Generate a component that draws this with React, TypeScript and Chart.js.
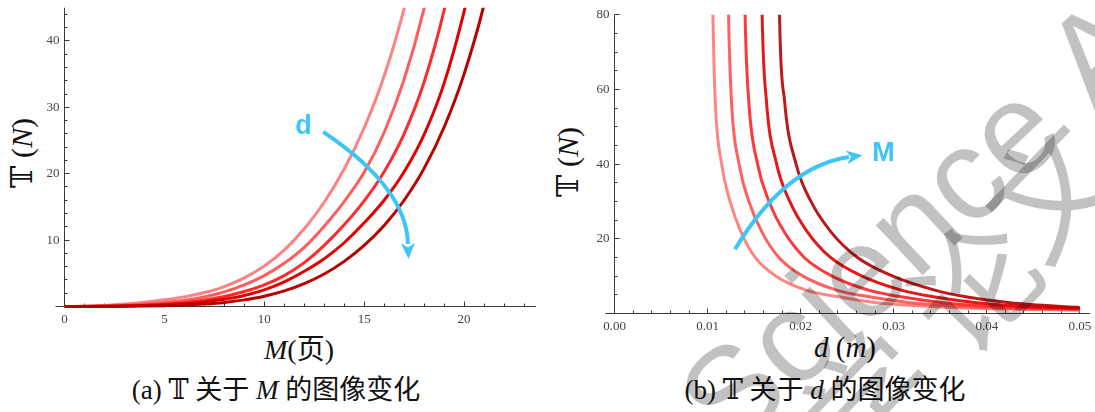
import React, { useEffect, useRef } from "react";
import { Chart, registerables } from "chart.js";

Chart.register(...registerables);

// ---------- Left panel: T vs M ----------
const leftM = [0, 1, 2, 3, 4, 5, 6, 7, 8, 9, 10, 11, 12, 13, 14, 15, 16, 17, 18, 19, 20, 21, 22];
const leftT1 = [0, 0.04, 0.16, 0.36, 0.64, 1.0, 1.45, 2.1, 3.0, 4.3, 6.1, 8.5, 11.7, 15.7, 20.7, 26.9, 34.7, 44.9, 58.4];
const leftT2 = [0, 0.03, 0.1, 0.2, 0.37, 0.62, 0.95, 1.45, 2.2, 3.25, 4.65, 6.5, 8.9, 12.1, 15.8, 20.2, 26.2, 34.2, 44.9, 59];
const leftT3 = [0, 0.015, 0.05, 0.11, 0.21, 0.37, 0.61, 0.97, 1.5, 2.25, 3.25, 4.65, 6.6, 9.2, 12.3, 15.9, 20.3, 26.0, 33.8, 44.6, 58.5];
const leftT4 = [0, 0.01, 0.04, 0.08, 0.15, 0.27, 0.44, 0.7, 1.08, 1.65, 2.5, 3.7, 5.3, 7.2, 9.6, 12.6, 16.0, 20.3, 25.9, 33.6, 44.4, 58];
const leftT5 = [0, 0, 0.01, 0.03, 0.07, 0.13, 0.22, 0.38, 0.62, 1.0, 1.55, 2.35, 3.45, 4.9, 6.8, 9.2, 12.2, 16.0, 20.8, 27.0, 35.0, 45.5, 60];

// ---------- Right panel: T vs d ----------
const rightT1 = [100, 80, 57, 40, 30, 22, 15, 10, 6.2, 4.4, 2.9, 1.75, 1.2, 0.9];
const rightD1 = [0.01045, 0.01056, 0.01081, 0.0115, 0.0124, 0.01355, 0.0151, 0.01734, 0.02067, 0.02425, 0.0282, 0.035, 0.042, 0.05];
const rightT2 = [100, 80, 57, 40, 30, 22, 15, 10, 6.2, 4.4, 2.9, 1.75, 1.3, 1.05];
const rightD2 = [0.01213, 0.01224, 0.01255, 0.01337, 0.01443, 0.01579, 0.01765, 0.02025, 0.02392, 0.02754, 0.0317, 0.0385, 0.044, 0.05];
const rightT3 = [100, 80, 57, 40, 30, 22, 15, 10, 6.2, 4.4, 2.9, 1.75, 1.2];
const rightD3 = [0.01391, 0.01402, 0.01441, 0.01536, 0.01659, 0.01819, 0.02038, 0.02337, 0.02737, 0.03097, 0.0353, 0.04204, 0.05];
const rightT4 = [100, 80, 57, 40, 30, 22, 15, 10, 6.2, 4.4, 2.9, 1.75, 1.4];
const rightD4 = [0.01574, 0.01585, 0.01631, 0.01741, 0.01882, 0.02067, 0.0232, 0.02659, 0.0309, 0.03444, 0.0389, 0.0455, 0.05];
const rightT5 = [100, 80, 57, 40, 30, 22, 15, 10, 6.2, 4.4, 2.9, 1.75, 1.6];
const rightD5 = [0.01762, 0.01772, 0.01826, 0.0195, 0.0211, 0.0232, 0.0261, 0.0299, 0.0345, 0.0379, 0.0425, 0.0489, 0.05];

const curveColors = ["#FF8282", "#FF5C5C", "#FF2B2B", "#E00000", "#B80000"];
const curveColorsSoft = [
  "rgba(255,120,120,0.9)",
  "rgba(255,80,80,0.9)",
  "rgba(255,35,35,0.9)",
  "rgba(222,0,0,0.9)",
  "rgba(180,0,0,0.9)",
];

// ---------- ticks ----------
const leftXMajor = [0, 5, 10, 15, 20];
const leftXLabels = ["0", "5", "10", "15", "20"];
const leftXMinor = [1, 2, 3, 4, 6, 7, 8, 9, 11, 12, 13, 14, 16, 17, 18, 19, 21, 22, 23];
const leftYMajor = [10, 20, 30, 40];
const leftYLabels = ["10", "20", "30", "40"];
const leftYMinor = [2, 4, 6, 8, 12, 14, 16, 18, 22, 24, 26, 28, 32, 34, 36, 38, 42, 44];

const rightXMajor = [0, 0.01, 0.02, 0.03, 0.04, 0.05];
const rightXLabels = ["0.00", "0.01", "0.02", "0.03", "0.04", "0.05"];
const rightXMinor = [0.002, 0.004, 0.006, 0.008, 0.012, 0.014, 0.016, 0.018, 0.022, 0.024, 0.026, 0.028, 0.032, 0.034, 0.036, 0.038, 0.042, 0.044, 0.046, 0.048];
const rightYMajor = [20, 40, 60, 80];
const rightYLabels = ["20", "40", "60", "80"];
const rightYMinor = [5, 10, 15, 25, 30, 35, 45, 50, 55, 65, 70, 75];

const CYAN = "#3EC5F5";

type Pt = { x: number; y: number };
const zip = (xs: number[], ys: number[]): Pt[] => ys.map((y, i) => ({ x: xs[i], y }));

const leftCurves = [
  zip(leftM, leftT1),
  zip(leftM, leftT2),
  zip(leftM, leftT3),
  zip(leftM, leftT4),
  zip(leftM, leftT5),
];
const rightCurves = [
  zip(rightD1, rightT1),
  zip(rightD2, rightT2),
  zip(rightD3, rightT3),
  zip(rightD4, rightT4),
  zip(rightD5, rightT5),
];

function axesPlugin(spec: any) {
  return {
    id: "customAxes",
    beforeDatasetsDraw(chart: any) {
      const { ctx, chartArea } = chart;
      const xs = chart.scales.x;
      const ys = chart.scales.y;
      const px = (v: number) => xs.getPixelForValue(v);
      const py = (v: number) => ys.getPixelForValue(v);
      const ox = Math.floor(px(0)) + 0.5;
      const oy = Math.floor(py(0)) + 0.5;
      ctx.save();
      ctx.strokeStyle = "#3a3a3a";
      ctx.lineWidth = 1;
      ctx.beginPath();
      ctx.moveTo(chartArea.left, oy);
      ctx.lineTo(chartArea.right, oy);
      ctx.moveTo(ox, oy);
      ctx.lineTo(ox, chartArea.top);
      spec.xMajor.forEach((v: number) => {
        const x = Math.floor(px(v)) + 0.5;
        ctx.moveTo(x, oy);
        ctx.lineTo(x, oy - 5);
      });
      spec.xMinor.forEach((v: number) => {
        const x = Math.floor(px(v)) + 0.5;
        ctx.moveTo(x, oy);
        ctx.lineTo(x, oy - 3);
      });
      spec.yMajor.forEach((v: number) => {
        const y = Math.floor(py(v)) + 0.5;
        ctx.moveTo(ox, y);
        ctx.lineTo(ox + 5, y);
      });
      spec.yMinor.forEach((v: number) => {
        const y = Math.floor(py(v)) + 0.5;
        ctx.moveTo(ox, y);
        ctx.lineTo(ox + 3, y);
      });
      ctx.stroke();
      ctx.fillStyle = "#444";
      ctx.font = '13px "Liberation Serif"';
      ctx.textAlign = "center";
      ctx.textBaseline = "middle";
      spec.xMajor.forEach((v: number, i: number) => ctx.fillText(spec.xLabels[i], px(v), oy + 13));
      ctx.textAlign = "right";
      spec.yMajor.forEach((v: number, i: number) => ctx.fillText(spec.yLabels[i], ox - 5, py(v)));
      ctx.restore();
    },
  };
}

function arrowPlugin(spec: any) {
  return {
    id: "cyanArrow",
    afterDatasetsDraw(chart: any) {
      const { ctx } = chart;
      const xs = chart.scales.x;
      const ys = chart.scales.y;
      const P = (p: number[]) => [xs.getPixelForValue(p[0]), ys.getPixelForValue(p[1])];
      const [sx, sy] = P(spec.start);
      const [cx, cy] = P(spec.ctrl);
      const [ex, ey] = P(spec.end);
      const [tx, ty] = P(spec.tip);
      ctx.save();
      ctx.strokeStyle = CYAN;
      ctx.fillStyle = CYAN;
      ctx.lineWidth = 4;
      ctx.beginPath();
      ctx.moveTo(sx, sy);
      ctx.quadraticCurveTo(cx, cy, ex, ey);
      ctx.stroke();
      const dx = tx - ex;
      const dy = ty - ey;
      const L = Math.hypot(dx, dy);
      const ux = dx / L;
      const uy = dy / L;
      const nx = -uy;
      const ny = ux;
      const hl = 16;
      const hw = 7;
      const bx = tx - ux * hl;
      const by = ty - uy * hl;
      ctx.beginPath();
      ctx.moveTo(tx, ty);
      ctx.lineTo(bx + nx * hw, by + ny * hw);
      ctx.lineTo(tx - ux * hl * 0.72, ty - uy * hl * 0.72);
      ctx.lineTo(bx - nx * hw, by - ny * hw);
      ctx.closePath();
      ctx.fill();
      const [lx, ly] = P(spec.labelPos);
      ctx.font = 'bold 27px "Liberation Sans"';
      ctx.textAlign = "center";
      ctx.textBaseline = "middle";
      ctx.fillText(spec.label, lx, ly);
      ctx.restore();
    },
  };
}

const watermarkPlugin = {
  id: "watermark",
  afterDraw(chart: any) {
    const { ctx } = chart;
    ctx.save();
    ctx.fillStyle = "rgba(0,0,0,0.24)";
    ctx.font = '130px "Liberation Sans"';
    ctx.translate(186, 454);
    ctx.rotate((-43 * Math.PI) / 180);
    ctx.textAlign = "left";
    ctx.textBaseline = "alphabetic";
    ctx.fillText("Science Aw", 0, 0);
    ctx.restore();
    const chars: [string, number, number][] = [
      ["学", 325, 400],
      ["论", 430, 285],
      ["文", 505, 190],
    ];
    chars.forEach(([c, x, y]) => {
      ctx.save();
      ctx.fillStyle = "rgba(0,0,0,0.24)";
      ctx.font = '125px "Noto Sans CJK SC"';
      ctx.translate(x, y);
      ctx.rotate((-46 * Math.PI) / 180);
      ctx.textAlign = "center";
      ctx.textBaseline = "middle";
      ctx.fillText(c, 0, 0);
      ctx.restore();
    });
  },
};

function makeDatasets(curves: Pt[][], colors: string[]) {
  return curves.map((data, i) => ({
    data,
    borderColor: colors[i],
    borderWidth: 3,
    pointRadius: 0,
    fill: false,
    cubicInterpolationMode: "monotone" as const,
    order: curves.length - i,
    clip: { left: 0, top: 0, right: 0, bottom: 5 },
    borderCapStyle: "butt" as const,
  }));
}

const serif = '"Liberation Serif", "DejaVu Serif", serif';
const cjk = '"Noto Sans CJK SC", sans-serif';
const dbl = '"DejaVu Serif", "DejaVu Sans", serif';

const abs = (x: number, y: number, extra: any = {}): any => ({
  position: "absolute",
  left: x,
  top: y,
  transform: "translate(-50%, -50%)",
  whiteSpace: "nowrap",
  color: "#111",
  lineHeight: 1,
  ...extra,
});

export default function App() {
  const leftRef = useRef<HTMLCanvasElement>(null);
  const rightRef = useRef<HTMLCanvasElement>(null);

  useEffect(() => {
    const left = new Chart(leftRef.current as HTMLCanvasElement, {
      type: "line",
      data: { datasets: makeDatasets(leftCurves, curveColors) as any },
      options: {
        animation: false,
        responsive: false,
        devicePixelRatio: 1,
        events: [],
        layout: { padding: { left: 55.5, right: 9, top: 7.7, bottom: 105.5 } },
        scales: {
          x: { type: "linear", min: -0.45, max: 23.6, display: false },
          y: { type: "linear", min: 0, max: 45, display: false },
        },
        plugins: { legend: { display: false }, tooltip: { enabled: false } },
      },
      plugins: [
        axesPlugin({
          xMajor: leftXMajor,
          xLabels: leftXLabels,
          xMinor: leftXMinor,
          yMajor: leftYMajor,
          yLabels: leftYLabels,
          yMinor: leftYMinor,
        }),
        arrowPlugin({
          start: [12.95, 26.3],
          ctrl: [17.14, 17.85],
          end: [17.19, 9.4],
          tip: [17.22, 7.15],
          label: "d",
          labelPos: [11.96, 27.1],
        }),
      ],
    });
    const right = new Chart(rightRef.current as HTMLCanvasElement, {
      type: "line",
      data: { datasets: makeDatasets(rightCurves, curveColorsSoft) as any },
      options: {
        animation: false,
        responsive: false,
        devicePixelRatio: 1,
        events: [],
        layout: { padding: { left: 60.4, right: 5, top: 14.7, bottom: 98.5 } },
        scales: {
          x: { type: "linear", min: -0.001, max: 0.0511, display: false },
          y: { type: "linear", min: 0, max: 80, display: false },
        },
        plugins: { legend: { display: false }, tooltip: { enabled: false } },
      },
      plugins: [
        axesPlugin({
          xMajor: rightXMajor,
          xLabels: rightXLabels,
          xMinor: rightXMinor,
          yMajor: rightYMajor,
          yLabels: rightYLabels,
          yMinor: rightYMinor,
        }),
        arrowPlugin({
          start: [0.01293, 17.2],
          ctrl: [0.01826, 39.3],
          end: [0.02519, 41.9],
          tip: [0.02663, 42.4],
          label: "M",
          labelPos: [0.0289, 42.9],
        }),
        watermarkPlugin,
      ],
    });
    return () => {
      left.destroy();
      right.destroy();
    };
  }, []);

  return (
    <div
      style={{
        position: "absolute",
        left: 0,
        top: 0,
        width: 1095,
        height: 412,
        background: "#fff",
        overflow: "hidden",
      }}
    >
      <div style={abs(299, 348, { fontSize: 28, fontFamily: serif })}>
        <i>M</i>(<span style={{ fontFamily: cjk }}>页</span>)
      </div>
      <div style={abs(276, 389, { fontSize: 27, fontFamily: serif })}>
        (a) <span style={{ fontFamily: dbl }}>𝕋</span> <span style={{ fontFamily: cjk }}>关于</span> <i>M</i>{" "}
        <span style={{ fontFamily: cjk }}>的图像变化</span>
      </div>
      <div style={abs(22, 153, { fontSize: 30, fontFamily: serif, transform: "translate(-50%, -50%) rotate(-90deg)" })}>
        <span style={{ fontFamily: dbl }}>𝕋</span> (<i>N</i>)
      </div>
      <div style={abs(845, 347, { fontSize: 29, fontFamily: serif })}>
        <i>d</i> (<i>m</i>)
      </div>
      <div style={abs(825, 389, { fontSize: 27, fontFamily: serif })}>
        (b) <span style={{ fontFamily: dbl }}>𝕋</span> <span style={{ fontFamily: cjk }}>关于</span> <i>d</i>{" "}
        <span style={{ fontFamily: cjk }}>的图像变化</span>
      </div>
      <div style={abs(568, 162, { fontSize: 30, fontFamily: serif, transform: "translate(-50%, -50%) rotate(-90deg)" })}>
        <span style={{ fontFamily: dbl }}>𝕋</span> (<i>N</i>)
      </div>
      <canvas ref={leftRef} width={545} height={412} style={{ position: "absolute", left: 0, top: 0, zIndex: 1 }} />
      <canvas ref={rightRef} width={550} height={412} style={{ position: "absolute", left: 545, top: 0, zIndex: 1 }} />
    </div>
  );
}
